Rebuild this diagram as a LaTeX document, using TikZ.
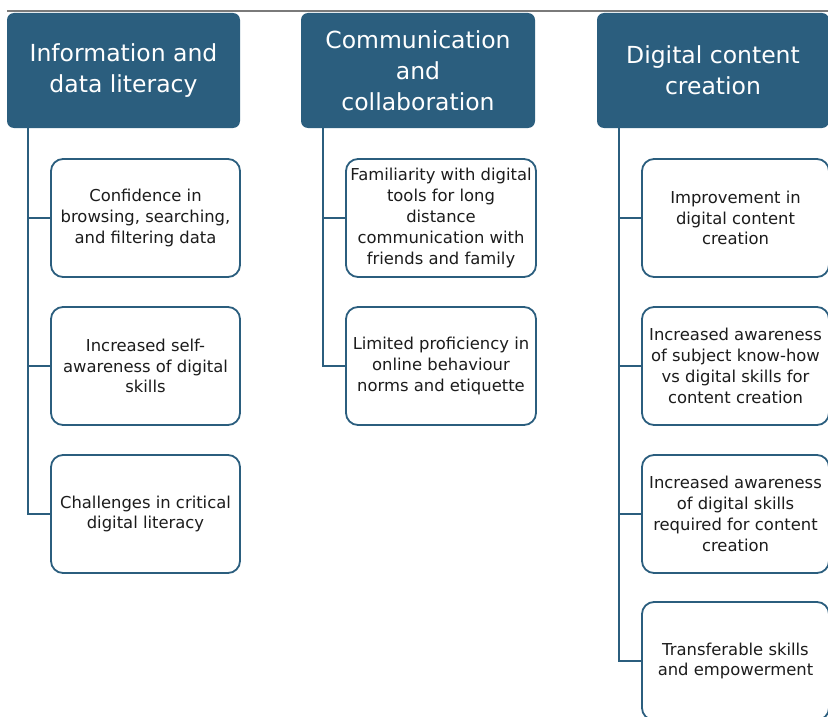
\documentclass[tikz,border=0pt]{standalone}
\usepackage{fontspec}
\setmainfont{DejaVu Sans}
\definecolor{hdr}{HTML}{2B5E7E}
\definecolor{txt}{HTML}{1C1C1C}
\definecolor{rule}{HTML}{7A7A7A}
\begin{document}
\begin{tikzpicture}[x=1pt,y=-1pt,
  header/.style={fill=hdr, rounded corners=7pt, text=white,
    font=\fontsize{23.5}{31}\selectfont, align=center,
    minimum height=115pt, inner sep=0pt},
  item/.style={draw=hdr, line width=1.8pt, fill=white, rounded corners=12pt,
    text=txt, font=\fontsize{16.4}{20.8}\selectfont, align=center,
    minimum height=118pt, inner sep=0pt},
  link/.style={draw=hdr, line width=2pt}]
\useasboundingbox (0,0) rectangle (828,717);

% thin rule along the top
\coordinate (rl) at (7,11);
\coordinate (rr) at (828,11);
\draw[rule, line width=1.3pt] (rl) -- (rr);

% category headers
\node[header, minimum width=233pt] (h1) at (123.5,70.5) {Information and\\data literacy};
\node[header, minimum width=234pt] (h2) at (418,70.5) {Communication\\and\\collaboration};
\node[header, minimum width=232pt] (h3) at (713,70.5) {Digital content\\creation};

% column 1
\node[item, minimum width=189pt] (a1) at (145.5,218) {Confidence in\\browsing, searching,\\and filtering data};
\node[item, minimum width=189pt] (a2) at (145.5,366) {Increased self-\\awareness of digital\\skills};
\node[item, minimum width=189pt] (a3) at (145.5,514) {Challenges in critical\\digital literacy};

% column 2
\node[item, minimum width=190pt] (b1) at (441,218) {Familiarity with digital\\tools for long\\distance\\communication with\\friends and family};
\node[item, minimum width=190pt] (b2) at (441,366) {Limited proficiency in\\online behaviour\\norms and etiquette};

% column 3
\node[item, minimum width=187pt] (c1) at (735.5,218) {Improvement in\\digital content\\creation};
\node[item, minimum width=187pt] (c2) at (735.5,366) {Increased awareness\\of subject know-how\\vs digital skills for\\content creation};
\node[item, minimum width=187pt] (c3) at (735.5,514) {Increased awareness\\of digital skills\\required for content\\creation};
\node[item, minimum width=187pt] (c4) at (735.5,661) {Transferable skills\\and empowerment};

% trunk lines and branches
\coordinate (t1) at (28,128);
\coordinate (t2) at (323,128);
\coordinate (t3) at (619,128);

\draw[link] (t1) |- (a3.west);
\draw[link] (t1 |- a1.west) -- (a1.west);
\draw[link] (t1 |- a2.west) -- (a2.west);

\draw[link] (t2) |- (b2.west);
\draw[link] (t2 |- b1.west) -- (b1.west);

\draw[link] (t3) |- (c4.west);
\draw[link] (t3 |- c1.west) -- (c1.west);
\draw[link] (t3 |- c2.west) -- (c2.west);
\draw[link] (t3 |- c3.west) -- (c3.west);
\end{tikzpicture}
\end{document}
